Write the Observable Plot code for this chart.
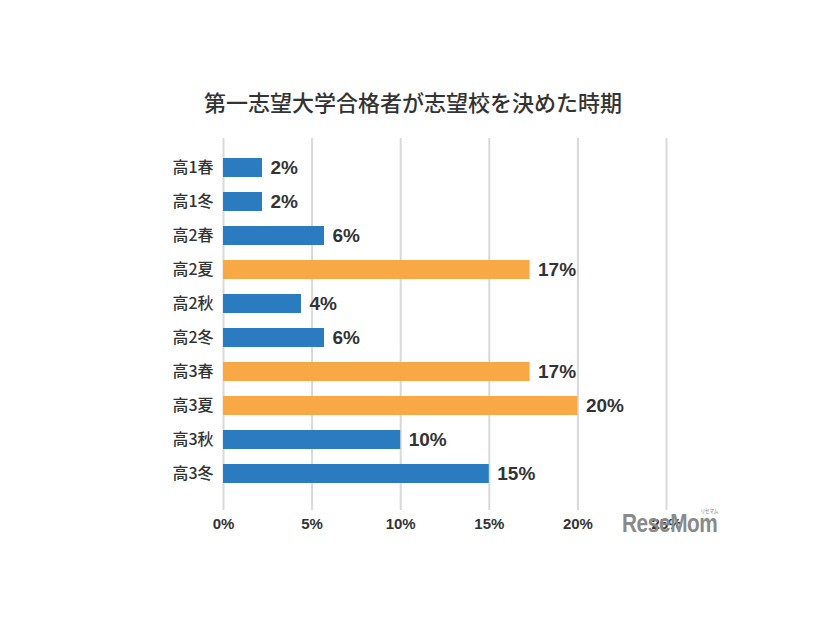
<!DOCTYPE html>
<html><head><meta charset="utf-8">
<script src="https://cdn.jsdelivr.net/npm/d3@7"></script>
<script src="https://cdn.jsdelivr.net/npm/@observablehq/plot@0.6"></script>
<style>
body{margin:0;background:#fff;width:826px;height:620px;position:relative;overflow:hidden;font-family:"Noto Sans CJK JP",sans-serif}
#title{position:absolute;left:0;width:826px;top:88px;text-align:center;font-size:22px;line-height:26px;font-weight:500;color:#333}
#chart{position:absolute;left:0;top:120px}
#logo{position:absolute;left:622px;top:508px;font-family:"Liberation Sans",Arial,sans-serif;font-weight:700;font-size:26px;color:#8a8a8a;letter-spacing:-0.5px;transform:scaleX(0.8);transform-origin:left top;white-space:nowrap}
#logo small{position:absolute;left:98px;top:-2px;font-size:6px;color:#8a8a8a;font-family:"Noto Sans CJK JP";font-weight:400}
</style></head><body>
<div id="title">第一志望大学合格者が志望校を決めた時期</div>
<div id="chart"></div>
<script>
const categories = ["高1春","高1冬","高2春","高2夏","高2秋","高2冬","高3春","高3夏","高3秋","高3冬"];
const values = [2.2, 2.2, 5.7, 17.3, 4.4, 5.7, 17.3, 20.0, 10.0, 15.0];
const valueLabels = ["2%","2%","6%","17%","4%","6%","17%","20%","10%","15%"];
const highlighted = [false,false,false,true,false,false,true,true,false,false];
const xTicks = [0, 5, 10, 15, 20, 25];
const xTickLabels = ["0%","5%","10%","15%","20%","25%"];
const groups = ["通常","強調"];
const groupColors = ["#2b7bc0","#f8a844"];

const data = categories.map((c, i) => ({category: c, value: values[i], label: valueLabels[i], group: highlighted[i] ? groups[1] : groups[0]}));

const plot = Plot.plot({
  width: 826, height: 440,
  marginTop: 18, marginBottom: 50, marginLeft: 223, marginRight: 160,
  style: {fontFamily: "'Liberation Sans', Arial, sans-serif", color: "#333", background: "white"},
  x: {domain: [0, 25], label: null},
  y: {domain: categories, range: [19, 382], paddingInner: 0.432, paddingOuter: 0.5, label: null},
  color: {domain: groups, range: groupColors},
  marks: [
    Plot.ruleX(xTicks, {stroke: "#d9d9d9", strokeWidth: 2}),
    Plot.barX(data, {x: "value", y: "category", fill: "group"}),
    Plot.text(data, {x: "value", y: "category", text: "label", textAnchor: "start", dx: 8, fontSize: 19, fontWeight: "bold", fill: "#333"}),
    Plot.axisX({ticks: xTicks, tickFormat: (d) => xTickLabels[xTicks.indexOf(d)], tickSize: 0, tickPadding: 8, fontSize: 15, fontWeight: "bold", label: null}),
    Plot.axisY({tickSize: 0, tickPadding: 10, fontSize: 16, fontFamily: "'Noto Sans CJK JP', sans-serif", fontWeight: 500, label: null})
  ]
});
document.getElementById("chart").appendChild(plot);
const logo = document.createElement("div");
logo.id = "logo";
logo.innerHTML = "ReseMom<small>リセマム</small>";
document.body.appendChild(logo);
</script>
</body></html>
